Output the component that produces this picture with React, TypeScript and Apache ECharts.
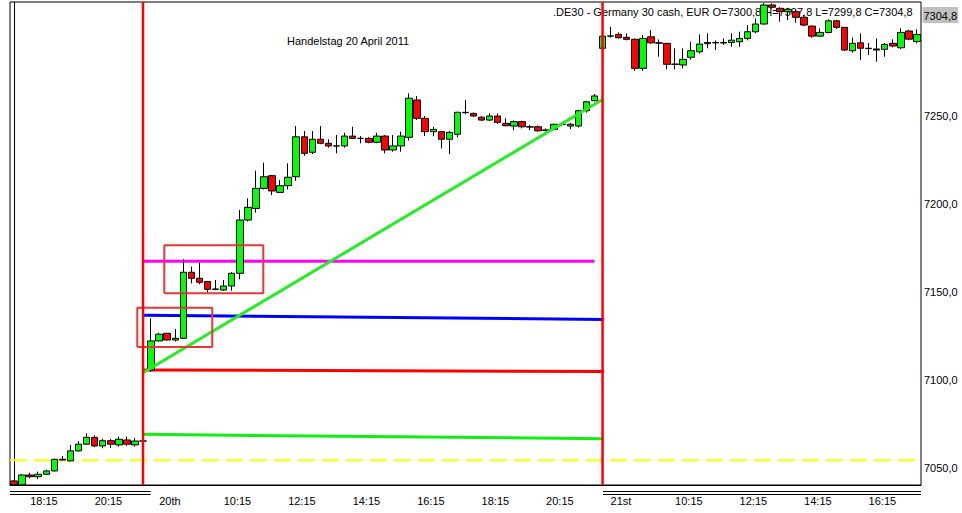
import React, { useEffect, useRef } from 'react';
import * as echarts from 'echarts';

// ---- categories (15-minute bars of three sessions) ----
const sessionDays = ['19', '20', '21'];
const sessionStarts = ['17:45', '08:00', '08:00'];
const sessionBars = [17, 56, 40];

function buildCategories(): string[] {
  const out: string[] = [];
  sessionDays.forEach((d, k) => {
    const [h, m] = sessionStarts[k].split(':').map(Number);
    let t = h * 60 + m;
    for (let i = 0; i < sessionBars[k]; i++) {
      const hh = String(Math.floor(t / 60)).padStart(2, '0');
      const mm = String(t % 60).padStart(2, '0');
      out.push(`${d} ${hh}:${mm}`);
      t += 15;
    }
  });
  return out;
}
const categories = buildCategories();

const tickCategories = ['19 18:15', '19 20:15', '20 08:15', '20 10:15', '20 12:15', '20 14:15', '20 16:15', '20 18:15', '20 20:15', '21 08:15', '21 10:15', '21 12:15', '21 14:15', '21 16:15'];
const tickLabels = ['18:15', '20:15', '20th', '10:15', '12:15', '14:15', '16:15', '18:15', '20:15', '21st', '10:15', '12:15', '14:15', '16:15'];

// ---- OHLC ----
const opens = [
  7051.1, 7048.9, 7054.5, 7053.5, 7054.9, 7056.8, 7063.4, 7062.5, 7068.2, 7072.0, 7075.9, 7071.0, 7074.0, 7071.6, 7074.4, 7071.6, 7073.8,
  7114.2, 7130.7, 7135.0, 7131.2, 7132.2, 7169.7, 7166.3, 7164.4, 7160.0, 7159.6, 7161.9, 7169.1, 7199.4, 7206.0, 7217.4, 7224.6, 7215.1, 7218.9, 7224.0, 7246.7, 7237.9, 7245.3, 7243.0, 7241.5, 7241.5, 7247.1, 7245.8, 7245.8, 7243.6, 7247.1, 7239.2, 7241.5, 7246.4, 7267.6, 7257.2, 7249.6, 7249.6, 7245.3, 7248.1, 7260.6, 7260.0, 7257.8, 7256.2, 7258.5, 7254.3, 7252.8, 7255.3, 7252.4, 7252.4, 7250.3, 7250.9, 7253.8, 7252.8, 7252.8, 7261.5, 7267.2,
  7297.0, 7303.9, 7304.9, 7303.2, 7302.1, 7285.6, 7303.5, 7300.1, 7299.8, 7287.9, 7287.5, 7291.9, 7295.0, 7299.6, 7300.1, 7300.0, 7300.3, 7300.7, 7302.6, 7306.4, 7310.8, 7321.6, 7319.7, 7317.8, 7317.8, 7314.6, 7309.6, 7303.9, 7306.0, 7312.6, 7308.9, 7295.6, 7300.1, 7297.0, 7296.6, 7296.4, 7299.8, 7297.3, 7306.8, 7300.8,
];
const closes = [
  7048.9, 7054.5, 7053.5, 7054.9, 7056.8, 7063.4, 7063.0, 7068.2, 7072.0, 7075.9, 7071.0, 7074.0, 7072.0, 7074.8, 7072.0, 7073.8, 7073.8,
  7130.7, 7134.5, 7131.2, 7132.2, 7169.7, 7166.3, 7164.0, 7160.0, 7160.2, 7161.9, 7169.1, 7199.4, 7206.6, 7217.4, 7224.0, 7215.9, 7218.9, 7223.7, 7246.7, 7237.3, 7245.3, 7243.0, 7241.5, 7241.5, 7247.1, 7245.8, 7245.8, 7243.6, 7247.1, 7239.2, 7241.5, 7247.1, 7268.6, 7257.2, 7249.6, 7250.9, 7245.3, 7249.2, 7260.6, 7260.4, 7258.5, 7256.2, 7258.5, 7254.9, 7253.0, 7255.3, 7252.4, 7252.2, 7250.1, 7250.6, 7253.8, 7253.6, 7253.8, 7261.5, 7266.6, 7269.9,
  7303.9, 7304.0, 7303.0, 7302.1, 7285.6, 7302.6, 7300.1, 7299.9, 7287.9, 7288.0, 7290.7, 7295.6, 7299.4, 7300.3, 7300.2, 7300.3, 7301.6, 7302.6, 7306.4, 7310.8, 7321.6, 7320.3, 7317.8, 7319.1, 7314.6, 7310.2, 7303.9, 7306.0, 7312.6, 7308.9, 7296.0, 7299.8, 7297.0, 7296.8, 7296.0, 7299.2, 7298.3, 7306.0, 7302.2, 7304.8,
];
const lows = [
  7048.9, 7048.9, 7052.6, 7052.1, 7054.5, 7056.5, 7062.8, 7062.3, 7067.8, 7071.8, 7070.3, 7069.7, 7069.9, 7070.6, 7071.0, 7070.6, 7073.8,
  7113.0, 7130.5, 7131.0, 7130.3, 7132.0, 7163.4, 7162.9, 7158.1, 7159.5, 7159.2, 7159.2, 7165.7, 7198.5, 7203.6, 7216.8, 7213.6, 7214.8, 7216.8, 7221.7, 7235.9, 7236.9, 7242.5, 7240.5, 7237.3, 7240.5, 7245.5, 7243.0, 7243.0, 7243.0, 7237.3, 7238.2, 7238.2, 7244.5, 7256.2, 7247.1, 7247.1, 7240.1, 7236.9, 7246.4, 7259.5, 7258.0, 7255.7, 7255.7, 7254.0, 7252.6, 7250.5, 7251.5, 7250.5, 7249.6, 7249.8, 7250.5, 7253.0, 7251.1, 7252.0, 7260.4, 7266.8,
  7296.5, 7303.0, 7302.5, 7301.5, 7284.2, 7284.2, 7299.5, 7292.2, 7285.0, 7285.0, 7285.6, 7290.5, 7294.0, 7297.0, 7296.0, 7299.0, 7297.9, 7297.9, 7301.5, 7305.5, 7310.5, 7319.5, 7312.1, 7313.0, 7311.5, 7309.5, 7303.0, 7303.5, 7305.5, 7308.0, 7295.5, 7294.5, 7290.3, 7293.2, 7289.3, 7292.2, 7297.5, 7296.5, 7301.5, 7299.8,
];
const highs = [
  7051.5, 7054.8, 7055.8, 7056.4, 7057.5, 7063.8, 7065.3, 7071.6, 7073.8, 7078.2, 7077.0, 7075.0, 7075.0, 7076.3, 7076.3, 7075.4, 7073.8,
  7143.5, 7135.4, 7135.4, 7137.5, 7177.1, 7172.9, 7175.1, 7164.8, 7165.3, 7165.3, 7169.8, 7205.1, 7211.7, 7227.4, 7232.0, 7225.0, 7222.1, 7231.6, 7252.8, 7250.0, 7250.0, 7252.8, 7245.3, 7247.7, 7249.0, 7252.4, 7247.1, 7246.5, 7249.0, 7247.7, 7247.7, 7249.6, 7271.4, 7269.9, 7258.5, 7252.4, 7250.0, 7250.0, 7261.0, 7267.6, 7260.5, 7258.5, 7260.0, 7260.0, 7257.2, 7256.0, 7255.8, 7253.5, 7253.0, 7251.5, 7254.2, 7254.5, 7254.5, 7262.0, 7267.0, 7271.0,
  7305.0, 7309.2, 7306.0, 7305.5, 7302.5, 7304.5, 7307.4, 7302.0, 7300.0, 7297.0, 7297.0, 7300.7, 7304.9, 7305.5, 7301.5, 7302.6, 7305.5, 7306.4, 7310.2, 7314.0, 7322.8, 7322.5, 7320.3, 7320.0, 7319.0, 7315.9, 7310.0, 7308.3, 7313.5, 7313.0, 7309.0, 7303.0, 7305.5, 7300.0, 7302.6, 7300.0, 7302.1, 7308.3, 7307.5, 7307.8,
];

// ---- axis range & ticks ----
const yMin = 7048.8;
const yMax = 7323.3;
const yTickValues = [7050, 7100, 7150, 7200, 7250];
const lastPrice = 7304.8;

// ---- drawn studies: [bar index, price] ----
const magentaLine = [[16, 7175.9], [72, 7175.9]];
const blueLine = [[16, 7145.3], [73.2, 7142.9]];
const redLine = [[16, 7114.2], [73.2, 7113.3]];
const greenLine = [[16, 7077.6], [73.2, 7075.1]];
const trendLine = [[16, 7112.6], [73, 7267.9]];
const yellowLevel = 7062.9;
const dayDividers = [16, 73];
const boxA = { x: [15.29, 24.59], y: [7127.2, 7149.6] };
const boxB = { x: [18.64, 30.92], y: [7157.8, 7185.0] };
const underlinedRanges = [[-0.5, 16.95], [73.05, 112.5]];

const headerText = '.DE30 - Germany 30 cash, EUR O=7300,8 H=7307,8 L=7299,8 C=7304,8';
const titleText = 'Handelstag 20 April 2011';

const FONT = '"Liberation Sans", Arial, sans-serif';

function boxPath(b: { x: number[]; y: number[] }) {
  return [
    [b.x[0], b.y[0]], [b.x[1], b.y[0]], [b.x[1], b.y[1]], [b.x[0], b.y[1]], [b.x[0], b.y[0]],
  ];
}

function lineSeries(data: number[][], color: string, width: number, z: number, type: any = 'solid') {
  return {
    type: 'line',
    xAxisIndex: 1,
    yAxisIndex: 0,
    data,
    symbol: 'none',
    silent: true,
    animation: false,
    z,
    lineStyle: { color, width, type },
  };
}

export default function App() {
  const ref = useRef<HTMLDivElement>(null);

  useEffect(() => {
    if (!ref.current) return;
    const chart = echarts.init(ref.current, undefined, { renderer: 'svg' });
    const nLast = categories.length - 0.5;

    const option: any = {
      animation: false,
      backgroundColor: '#ffffff',
      grid: { left: 10, top: 2, right: 41, bottom: 28, show: true, borderColor: '#000', borderWidth: 1, backgroundColor: '#ffffff' },
      xAxis: [
        {
          type: 'category',
          data: categories,
          boundaryGap: true,
          axisLine: { show: true, lineStyle: { color: '#000', width: 1 } },
          axisTick: { show: false },
          splitLine: { show: false },
          axisLabel: {
            interval: 0,
            align: 'left',
            margin: 10,
            color: '#000',
            fontSize: 11,
            fontFamily: FONT,
            formatter: (v: string) => {
              const k = tickCategories.indexOf(v);
              return k >= 0 ? tickLabels[k] : '';
            },
          },
        },
        { type: 'value', min: -0.5, max: nLast, show: false },
      ],
      yAxis: {
        type: 'value',
        position: 'right',
        min: yMin,
        max: yMax,
        axisLine: { show: true, lineStyle: { color: '#000', width: 1 } },
        axisTick: { show: false },
        splitLine: { show: false },
        axisLabel: {
          customValues: yTickValues,
          formatter: (v: number) => v.toFixed(1).replace('.', ','),
          margin: 3,
          verticalAlign: 'bottom',
          lineHeight: 29,
          color: '#000',
          fontSize: 11,
          fontFamily: FONT,
        },
      },
      series: [
        lineSeries([[-0.5, yellowLevel], [nLast, yellowLevel]], '#ffff00', 2, 1, [17, 7]),
        lineSeries(magentaLine, '#ff00ff', 3, 1),
        lineSeries(blueLine, '#0000ff', 3, 1),
        lineSeries(redLine, '#ff0000', 3, 1),
        lineSeries(greenLine, '#11ee11', 3, 1),
        {
          type: 'candlestick',
          xAxisIndex: 0,
          yAxisIndex: 0,
          barWidth: 7,
          z: 3,
          data: categories.map((_, i) => [opens[i], closes[i], lows[i], highs[i]]),
          itemStyle: {
            color: '#00ff00',
            color0: '#ff0000',
            borderColor: '#000000',
            borderColor0: '#000000',
            borderColorDoji: '#000000',
            borderWidth: 1,
          },
        },
        lineSeries(trendLine, '#22ee22', 3, 4),
        lineSeries(boxPath(boxA), '#e53935', 2, 5),
        lineSeries(boxPath(boxB), '#e53935', 2, 5),
        ...dayDividers.map((d) => lineSeries([[d, yMin], [d, yMax]], '#ff0000', 2.5, 6)),
      ],
    };
    chart.setOption(option);

    const px = (v: number) => chart.convertToPixel({ xAxisIndex: 1 } as any, v) as unknown as number;
    const graphics: any[] = [
      {
        type: 'text', x: 553, y: 12, z: 1, silent: true,
        style: { text: headerText, fill: '#000', fontSize: 11, fontFamily: FONT, verticalAlign: 'middle' },
      },
      {
        type: 'text', x: 287, y: 41, z: 1, silent: true,
        style: { text: titleText, fill: '#000', fontSize: 11, fontFamily: FONT, verticalAlign: 'middle' },
      },
      {
        type: 'text', x: 922.5, y: 7, z: 10, silent: true,
        style: {
          text: lastPrice.toFixed(1).replace('.', ','), fill: '#000', fontSize: 11, fontFamily: FONT,
          backgroundColor: '#c0c0c0', padding: [3, 1, 2, 1],
        },
      },
    ];
    underlinedRanges.forEach(([a, b]) => {
      const x1 = px(a);
      const x2 = px(b);
      [491.5, 494.5].forEach((y) => {
        graphics.push({
          type: 'line', silent: true, z: 10,
          shape: { x1, y1: y, x2, y2: y },
          style: { stroke: '#000', lineWidth: 1 },
        });
      });
    });
    chart.setOption({ graphic: graphics });

    return () => chart.dispose();
  }, []);

  return (
    <div
      ref={ref}
      style={{ position: 'fixed', left: 0, top: 0, width: 962, height: 513, background: '#fff' }}
    />
  );
}
